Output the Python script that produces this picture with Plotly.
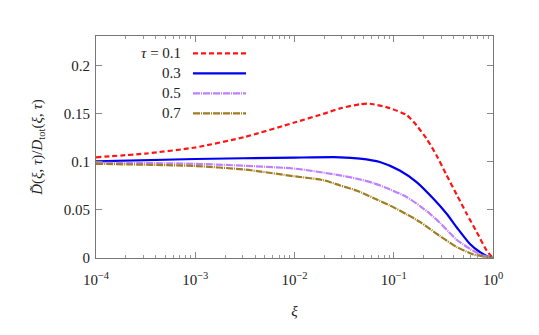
import plotly.graph_objects as go

# x positions as log10(xi)
logxi_01 = [-4.0, -3.5, -3.0, -2.5, -2.0, -1.71, -1.54, -1.34, -1.24, -1.04, -0.87, -0.77, -0.668, -0.57, -0.467, -0.366, -0.265, -0.164, -0.063, 0.0]
tau_01 = [0.1048, 0.1087, 0.115, 0.126, 0.141, 0.150, 0.1557, 0.160, 0.1605, 0.156, 0.1487, 0.138, 0.124, 0.107, 0.086, 0.066, 0.046, 0.027, 0.0076, 0.0]

logxi_03 = [-4.0, -3.0, -2.0, -1.54, -1.34, -1.14, -0.94, -0.77, -0.60, -0.467, -0.366, -0.232, -0.13, -0.05, 0.0]
tau_03 = [0.1006, 0.1030, 0.1045, 0.1048, 0.1034, 0.0999, 0.0910, 0.079, 0.0616, 0.046, 0.032, 0.0146, 0.006, 0.0014, 0.0]

logxi_05 = [-4.0, -3.0, -2.0, -1.54, -1.37, -1.206, -1.04, -0.87, -0.735, -0.635, -0.534, -0.366, -0.232, -0.10, 0.0]
tau_05 = [0.0992, 0.098, 0.093, 0.086, 0.0825, 0.078, 0.0715, 0.0635, 0.054, 0.046, 0.0365, 0.019, 0.0095, 0.0025, 0.0]

logxi_07 = [-4.0, -3.0, -2.5, -2.0, -1.71, -1.54, -1.37, -1.206, -1.04, -0.87, -0.735, -0.534, -0.366, -0.2, 0.0]
tau_07 = [0.098, 0.0957, 0.092, 0.085, 0.081, 0.0755, 0.070, 0.0625, 0.0547, 0.0455, 0.0375, 0.0228, 0.0115, 0.0038, 0.0]

legend_labels = ["<i>τ</i> = 0.1", "0.3", "0.5", "0.7"]
x_tick_vals = [1e-4, 1e-3, 1e-2, 1e-1, 1]
x_tick_text = ["10<sup>−4</sup>", "10<sup>−3</sup>", "10<sup>−2</sup>", "10<sup>−1</sup>", "10<sup>0</sup>"]
x_minor_vals = [m * 10.0 ** e for e in range(-4, 0) for m in range(2, 10)]
y_tick_vals = [0, 0.05, 0.1, 0.15, 0.2]
y_tick_text = ["0", "0.05", "0.1", "0.15", "0.2"]

series = [
    (logxi_01, tau_01, "#ff1414", "5px,3px"),
    (logxi_03, tau_03, "#0000ee", "solid"),
    (logxi_05, tau_05, "#bf80ff", "7px,1px,1px,1px"),
    (logxi_07, tau_07, "#a07d22", "7px,1px,1px,1px"),
]

fig = go.Figure()
for (lx, ys, col, dash) in series:
    fig.add_trace(go.Scatter(
        x=[10 ** v for v in lx], y=ys, mode="lines",
        line=dict(color=col, width=2.2, dash=dash, shape="spline", smoothing=0.6),
        showlegend=False))

font = dict(family="Liberation Serif", size=15, color="#222")

# page body adds an 8px offset; target plot frame in screen pixels: x 96..493, y 36..258
OFF = 8
L, T = 96 - OFF, 36 - OFF
W, H = 397, 222
R = 539 - L - W
B = 335 - T - H

rows_px = [53.3, 73.3, 93.3, 113.3]
shapes = []
annotations = []
for (lab, (lx, ys, col, dash), py) in zip(legend_labels, series, rows_px):
    yp = 1 - (py - OFF - T) / H
    x_text = (183 - OFF - L) / W
    x0 = (193 - OFF - L) / W
    x1 = (246 - OFF - L) / W
    annotations.append(dict(x=x_text, y=yp, xref="paper", yref="paper", text=lab,
                            showarrow=False, xanchor="right", yanchor="middle", font=font))
    shapes.append(dict(type="line", xref="paper", yref="paper", x0=x0, x1=x1, y0=yp, y1=yp,
                       line=dict(color=col, width=2.2, dash=dash)))

fig.update_layout(
    width=539, height=335,
    margin=dict(l=L, r=R, t=T, b=B),
    paper_bgcolor="white", plot_bgcolor="white",
    font=font,
    shapes=shapes, annotations=annotations,
    xaxis=dict(type="log", range=[-4, 0], tickvals=x_tick_vals, ticktext=x_tick_text,
               ticks="inside", ticklen=6, tickcolor="#888", showgrid=False, zeroline=False,
               showline=True, linecolor="#777", linewidth=1, mirror="ticks",
               ticklabelstandoff=8,
               minor=dict(tickvals=x_minor_vals, ticks="inside", ticklen=3, tickcolor="#999", showgrid=False),
               title=dict(text="<i>ξ</i>", standoff=18, font=font), tickfont=font),
    yaxis=dict(range=[0, 0.231], tickvals=y_tick_vals, ticktext=y_tick_text,
               ticks="inside", ticklen=6, tickcolor="#888", showgrid=False, zeroline=False,
               showline=True, linecolor="#777", linewidth=1, mirror="ticks",
               ticklabelstandoff=2,
               title=dict(text="<i>D̃</i>(<i>ξ</i>, <i>τ</i>)/<i>D</i><sub>tot</sub>(<i>ξ</i>, <i>τ</i>)",
                          standoff=17, font=font), tickfont=font),
)

fig.write_html("out.html")
